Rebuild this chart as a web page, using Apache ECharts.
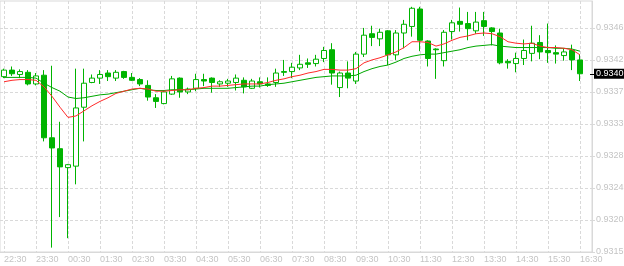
<!DOCTYPE html>
<html><head><meta charset="utf-8">
<script src="https://cdn.jsdelivr.net/npm/echarts@6/dist/echarts.min.js"></script>
<style>html,body{margin:0;padding:0;background:#fff}#c{width:624px;height:266px}</style>
</head><body><div id="c"></div>
<script>
const times = ["22:30","22:45","23:00","23:15","23:30","23:45","00:00","00:15","00:30","00:45","01:00","01:15",
"01:30","01:45","02:00","02:15","02:30","02:45","03:00","03:15","03:30","03:45","04:00","04:15",
"04:30","04:45","05:00","05:15","05:30","05:45","06:00","06:15","06:30","06:45","07:00","07:15",
"07:30","07:45","08:00","08:15","08:30","08:45","09:00","09:15","09:30","09:45","10:00","10:15",
"10:30","10:45","11:00","11:15","11:30","11:45","12:00","12:15","12:30","12:45","13:00","13:15",
"13:30","13:45","14:00","14:15","14:30","14:45","15:00","15:15","15:30","15:45","16:00","16:15","16:30"];

const opens = [0.93393,0.93402,0.93396,0.93399,0.93383,0.93395,0.93309,0.93294,0.93268,0.93270,
0.93351,0.93385,0.93391,0.93398,0.93391,0.93400,0.93392,0.93389,0.93381,0.93364,
0.93356,0.93369,0.93391,0.93372,0.93377,0.93389,0.93391,0.93383,0.93384,0.93385,
0.93388,0.93377,0.93386,0.93383,0.93385,0.93400,0.93400,0.93405,0.93412,0.93411,
0.93418,0.93430,0.93378,0.93398,0.93387,0.93424,0.93452,0.93445,0.93456,0.93423,
0.93453,0.93462,0.93486,0.93442,0.93431,0.93415,0.93455,0.93469,0.93466,0.93456,
0.93470,0.93460,0.93453,0.93414,0.93411,0.93418,0.93425,0.93440,0.93429,0.93426,
0.93422,0.93429,0.93416];
const closes = [0.93402,0.93397,0.93400,0.93383,0.93394,0.93309,0.93295,0.93269,0.93272,0.93350,
0.93384,0.93391,0.93396,0.93393,0.93399,0.93392,0.93388,0.93383,0.93365,0.93359,
0.93372,0.93390,0.93372,0.93376,0.93389,0.93387,0.93385,0.93386,0.93387,0.93391,
0.93379,0.93387,0.93383,0.93381,0.93398,0.93399,0.93406,0.93410,0.93410,0.93417,
0.93429,0.93398,0.93398,0.93391,0.93424,0.93450,0.93447,0.93454,0.93423,0.93453,
0.93465,0.93487,0.93443,0.93418,0.93430,0.93454,0.93467,0.93465,0.93459,0.93468,
0.93462,0.93455,0.93412,0.93412,0.93418,0.93429,0.93439,0.93427,0.93426,0.93424,
0.93427,0.93416,0.93397];
const lows = [0.93391,0.93394,0.93391,0.93381,0.93381,0.93304,0.93158,0.93200,0.93171,0.93245,
0.93304,0.93384,0.93383,0.93387,0.93387,0.93390,0.93387,0.93380,0.93360,0.93350,
0.93355,0.93368,0.93364,0.93369,0.93373,0.93380,0.93371,0.93379,0.93379,0.93374,
0.93370,0.93376,0.93378,0.93379,0.93379,0.93394,0.93391,0.93402,0.93405,0.93407,
0.93413,0.93382,0.93365,0.93377,0.93383,0.93420,0.93435,0.93435,0.93409,0.93416,
0.93432,0.93448,0.93428,0.93407,0.93390,0.93407,0.93444,0.93455,0.93443,0.93452,
0.93449,0.93436,0.93410,0.93404,0.93399,0.93409,0.93414,0.93417,0.93412,0.93411,
0.93415,0.93402,0.93387];
const highs = [0.93404,0.93407,0.93403,0.93402,0.93398,0.93402,0.93408,0.93331,0.93273,0.93404,
0.93404,0.93396,0.93402,0.93402,0.93402,0.93401,0.93398,0.93391,0.93388,0.93369,
0.93374,0.93394,0.93392,0.93378,0.93397,0.93397,0.93392,0.93388,0.93390,0.93396,
0.93392,0.93390,0.93392,0.93392,0.93404,0.93416,0.93412,0.93423,0.93418,0.93423,
0.93434,0.93439,0.93400,0.93414,0.93427,0.93460,0.93463,0.93459,0.93457,0.93457,
0.93471,0.93489,0.93489,0.93443,0.93432,0.93457,0.93471,0.93488,0.93482,0.93482,
0.93482,0.93461,0.93459,0.93417,0.93426,0.93444,0.93463,0.93450,0.93466,0.93436,
0.93432,0.93437,0.93423];

const maFast = [0.93386,0.93388,0.93389,0.93389,0.93388,0.93379,0.93366,0.93351,0.93337,0.93339,
0.93346,0.93353,0.93359,0.93364,0.93370,0.93373,0.93376,0.93377,0.93376,0.93373,
0.93373,0.93374,0.93375,0.93375,0.93377,0.93378,0.93380,0.93380,0.93381,0.93382,
0.93383,0.93383,0.93383,0.93385,0.93388,0.93390,0.93393,0.93395,0.93398,0.93400,
0.93403,0.93403,0.93402,0.93402,0.93404,0.93412,0.93416,0.93419,0.93423,0.93427,
0.93433,0.93441,0.93441,0.93440,0.93435,0.93438,0.93443,0.93447,0.93449,0.93452,
0.93453,0.93452,0.93448,0.93441,0.93439,0.93438,0.93439,0.93435,0.93433,0.93433,
0.93432,0.93430,0.93423];
const maSlow = [0.93392,0.93392,0.93392,0.93392,0.93391,0.93384,0.93378,0.93373,0.93365,0.93363,
0.93364,0.93366,0.93368,0.93369,0.93371,0.93373,0.93375,0.93377,0.93375,0.93374,
0.93374,0.93375,0.93375,0.93375,0.93376,0.93377,0.93377,0.93377,0.93377,0.93378,
0.93379,0.93380,0.93380,0.93382,0.93383,0.93384,0.93386,0.93388,0.93390,0.93392,
0.93393,0.93394,0.93394,0.93394,0.93395,0.93400,0.93404,0.93407,0.93409,0.93413,
0.93418,0.93421,0.93423,0.93424,0.93424,0.93426,0.93428,0.93430,0.93433,0.93435,
0.93436,0.93437,0.93435,0.93434,0.93433,0.93433,0.93433,0.93433,0.93433,0.93432,
0.93432,0.93431,0.93428];

const yTicks = [0.93152,0.93196,0.93240,0.93284,0.93328,0.93372,0.93416,0.93460];
const yMin = 0.93152, yMax = 0.93497;
const lastClose = closes[closes.length - 1];

const CANDLE = '#00b400';
const GRIDC = '#d9d9d9';
const LABELC = '#c4c4c4';
const FONT = 'Liberation Sans, Arial, sans-serif';

const chart = echarts.init(document.getElementById('c'), null, {renderer: 'canvas'});
chart.setOption({
  animation: false,
  backgroundColor: '#ffffff',
  grid: {left: 0, right: 32, top: 1, bottom: 14, show: true, borderColor: GRIDC, borderWidth: 1,
         backgroundColor: 'transparent', containLabel: false, outerBoundsMode: 'none'},
  xAxis: {
    type: 'category', data: times, max: 73, boundaryGap: true,
    axisLine: {show: true, lineStyle: {color: GRIDC, width: 1}},
    axisTick: {show: false},
    axisLabel: {interval: 3, align: 'left', color: LABELC, fontSize: 9, fontFamily: FONT, margin: 3},
    splitLine: {show: true, interval: 3, alignWithLabel: true, lineStyle: {color: GRIDC, type: [3, 2], width: 1}}
  },
  yAxis: [{
    type: 'value', position: 'right', min: yMin, max: yMax, scale: true,
    axisLine: {show: true, lineStyle: {color: GRIDC, width: 1}},
    axisTick: {show: true, length: 3, customValues: yTicks, lineStyle: {color: GRIDC}},
    axisLabel: {customValues: yTicks, color: LABELC, fontSize: 9, fontFamily: FONT, margin: 4,
                formatter: v => v.toFixed(4)},
    splitLine: {show: true, lineStyle: {color: GRIDC, type: [3, 2], width: 1}}
  }, {
    type: 'value', position: 'right', min: yMin, max: yMax, scale: true, offset: -2,
    axisLine: {show: false},
    axisTick: {show: true, length: 4, customValues: [lastClose], lineStyle: {color: '#000', width: 1}},
    axisLabel: {customValues: [lastClose], color: '#fff', backgroundColor: '#000', padding: [1, 2, 0, 2],
                fontSize: 9, fontFamily: FONT, margin: 4, formatter: v => v.toFixed(4)},
    splitLine: {show: false}
  }],
  series: [{
    type: 'candlestick', yAxisIndex: 0, barWidth: 5,
    data: times.map((t, i) => [opens[i], closes[i], lows[i], highs[i]]),
    itemStyle: {color: '#ffffff', color0: CANDLE, borderColor: CANDLE, borderColor0: CANDLE, borderWidth: 1}
  }, {
    type: 'line', yAxisIndex: 0, data: maFast, symbol: 'none', z: 5,
    lineStyle: {color: '#ff2a2a', width: 1}
  }, {
    type: 'line', yAxisIndex: 0, data: maSlow, symbol: 'none', z: 4,
    lineStyle: {color: '#00a800', width: 1}
  }]
});
</script></body></html>
